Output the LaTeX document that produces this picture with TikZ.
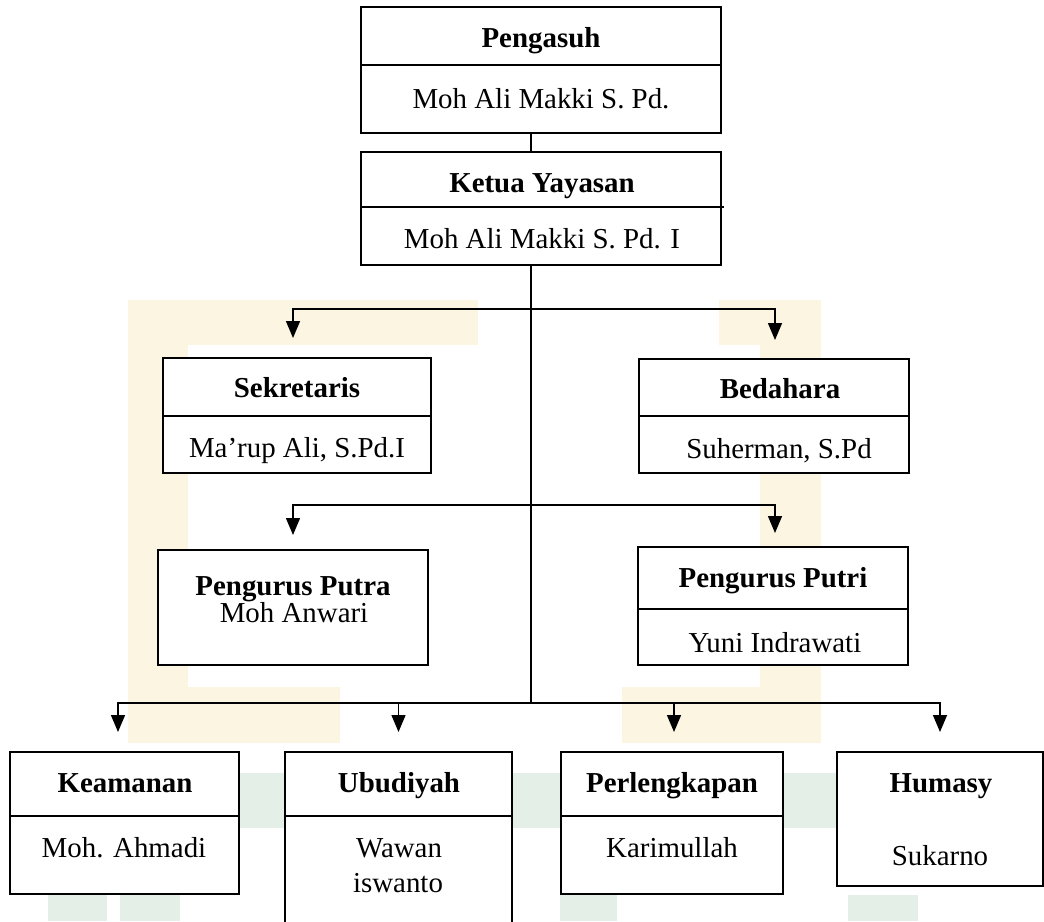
\documentclass[tikz,border=0pt]{standalone}
\usepackage{fontspec}
\setmainfont{Liberation Serif}
\usetikzlibrary{arrows.meta}
\definecolor{wmyellow}{RGB}{252,245,226}
\definecolor{wmgreen}{RGB}{227,239,231}
\begin{document}
\begin{tikzpicture}[x=1pt,y=-1pt,
  box/.style={draw, fill=white, line width=1.8pt, rectangle, inner sep=0pt, outer sep=0pt, anchor=north west},
  div/.style={line width=1.4pt},
  ln/.style={line width=1.5pt},
  arr/.style={line width=1.5pt, -{Triangle[length=17pt,width=14pt]}},
  lbl/.style={inner sep=0pt, anchor=base, font=\fontsize{28.9}{33}\selectfont},
  hd/.style={lbl, font=\fontsize{28.9}{33}\selectfont\bfseries},
  wmy/.style={fill=wmyellow, draw=none},
  wmg/.style={fill=wmgreen, draw=none}]
\useasboundingbox (0,0) rectangle (1044,921);
\fill[white] (0,0) rectangle (1044,921);

% faint background watermark
\fill[wmy] (128,300) rectangle (188,743);
\fill[wmy] (760,300) rectangle (821,743);
\fill[wmy] (128,300) rectangle (478,345);
\fill[wmy] (719,300) rectangle (821,345);
\fill[wmy] (128,687) rectangle (340,743);
\fill[wmy] (622,687) rectangle (821,743);
\fill[wmg] (239,773) rectangle (1044,828);
\fill[wmg] (48,895) rectangle (107,921);
\fill[wmg] (120,895) rectangle (180,921);
\fill[wmg] (560,895) rectangle (617,921);
\fill[wmg] (848,895) rectangle (918,921);

% boxes
\node[box, minimum width=360pt, minimum height=126pt] (peng) at (361,7) {};
\node[box, minimum width=360pt, minimum height=113pt] (ketua) at (361,152) {};
\node[box, minimum width=268pt, minimum height=115pt] (sek) at (163,358) {};
\node[box, minimum width=270pt, minimum height=114pt] (bed) at (639,359) {};
\node[box, minimum width=270pt, minimum height=115pt] (putra) at (158,550) {};
\node[box, minimum width=270pt, minimum height=118pt] (putri) at (638,547) {};
\node[box, minimum width=229pt, minimum height=142pt] (kea) at (10,752) {};
\node[box, minimum width=227pt, minimum height=200pt] (ubu) at (285,752) {};
\node[box, minimum width=222pt, minimum height=142pt] (perl) at (561,752) {};
\node[box, minimum width=206pt, minimum height=134pt] (hum) at (837,752) {};

% dividers
\draw[div] ([yshift=-58pt]peng.north west) -- ([yshift=-58pt]peng.north east);
\draw[div] ([yshift=-55pt]ketua.north west) -- ([xshift=3pt,yshift=-55pt]ketua.north east);
\draw[div] ([yshift=-58pt]sek.north west) -- ([yshift=-58pt]sek.north east);
\draw[div] ([yshift=-57pt]bed.north west) -- ([yshift=-57pt]bed.north east);
\draw[div] ([yshift=-62pt]putri.north west) -- ([yshift=-62pt]putri.north east);
\draw[div] ([yshift=-64pt]kea.north west) -- ([yshift=-64pt]kea.north east);
\draw[div] ([yshift=-64pt]ubu.north west) -- ([yshift=-64pt]ubu.north east);
\draw[div] ([yshift=-64pt]perl.north west) -- ([yshift=-64pt]perl.north east);

% texts
\node[hd]  (pengH)  at (541,47)  {Pengasuh};
\node[lbl] (pengN)  at (541,108) {Moh Ali Makki S. Pd.};
\node[hd]  (ketuaH) at (542,192) {Ketua Yayasan};
\node[lbl] (ketuaN) at (542,248) {Moh Ali Makki S. Pd. I};
\node[hd]  (sekH)   at (297,397) {Sekretaris};
\node[lbl] (sekN)   at (297,457) {Ma’rup Ali, S.Pd.I};
\node[hd]  (bedH)   at (780,398) {Bedahara};
\node[lbl] (bedN)   at (779,458) {Suherman, S.Pd};
\node[hd]  (putraH) at (293,595) {Pengurus Putra};
\node[lbl] (putraN) at (294,622) {Moh Anwari};
\node[hd]  (putriH) at (773,587) {Pengurus Putri};
\node[lbl] (putriN) at (775,652) {Yuni Indrawati};
\node[hd]  (keaH)   at (125,792) {Keamanan};
\node[lbl] (keaN)   at (124,857) {Moh. Ahmadi};
\node[hd]  (ubuH)   at (399,792) {Ubudiyah};
\node[lbl] (ubuN1)  at (399,857) {Wawan};
\node[lbl] (ubuN2)  at (398,892) {iswanto};
\node[hd]  (perlH)  at (672,792) {Perlengkapan};
\node[lbl] (perlN)  at (672,857) {Karimullah};
\node[hd]  (humH)   at (941,792) {Humasy};
\node[lbl] (humN)   at (940,865) {Sukarno};

% connectors
\coordinate (j1) at (531,309);
\coordinate (j2) at (531,505);
\coordinate (j3) at (531,703);
\draw[ln] (peng.south -| j1) -- (ketua.north -| j1);
\draw[ln] (ketua.south -| j1) -- (j3);
\draw[arr] (j1) -| ([xshift=-4pt,yshift=20pt]sek.north);
\draw[arr] (j1) -| ([xshift=1pt,yshift=19pt]bed.north);
\draw[arr] (j2) -| ([yshift=15pt]putra.north);
\draw[arr] (j2) -| ([xshift=2pt,yshift=14pt]putri.north);
\draw[arr] (j3) -| ([xshift=-6.5pt,yshift=20pt]kea.north);
\draw[arr] (j3) -| ([yshift=20pt]ubu.north);
\draw[arr] (j3) -| ([xshift=2pt,yshift=20pt]perl.north);
\draw[arr] (j3) -| ([yshift=20pt]hum.north);
\end{tikzpicture}
\end{document}
